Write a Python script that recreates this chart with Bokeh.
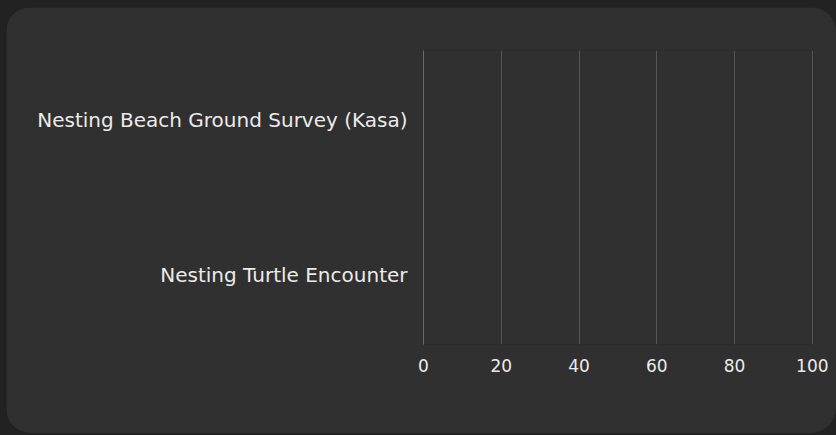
from bokeh.plotting import figure
from bokeh.embed import file_html
from bokeh.resources import INLINE
from bokeh.models import Range1d, FactorRange, GlobalInlineStyleSheet, FixedTicker

# Data
categories = ["Nesting Beach Ground Survey (Kasa)", "Nesting Turtle Encounter"]
values = [0, 0]
x_ticks = [0, 20, 40, 60, 80, 100]

FONT = "DejaVu Sans"
TEXT = "#ebebeb"

factors = list(reversed(categories))
p = figure(
    width=830, height=426,
    y_range=FactorRange(factors=factors, range_padding=-0.05),
    x_range=Range1d(0, 100.3),
    output_backend="svg", toolbar_location=None,
    min_border_left=417, min_border_right=23,
    min_border_top=43, min_border_bottom=89,
)
p.hbar(y=categories, right=values, height=0.6, color="#4e79a7")

p.background_fill_color = "#303030"
p.border_fill_color = "#303030"
p.outline_line_color = None
p.styles = {"border-radius": "25px", "overflow": "hidden",
            "margin-left": "6px", "margin-top": "7px"}
p.stylesheets = [GlobalInlineStyleSheet(css="html, body { background: #222222; }")]

p.ygrid.grid_line_color = None
p.xgrid.grid_line_color = "#555555"
p.xgrid.grid_line_width = 1

p.xaxis.ticker = FixedTicker(ticks=x_ticks)
p.xaxis.axis_line_color = None
p.xaxis.major_tick_line_color = None
p.xaxis.minor_tick_line_color = None
p.xaxis.major_tick_out = 0
p.xaxis.minor_tick_out = 0
p.xaxis.major_label_standoff = 14
p.xaxis.major_label_text_color = TEXT
p.xaxis.major_label_text_font = FONT
p.xaxis.major_label_text_font_size = "17px"

p.yaxis.axis_line_color = "#6a6a6a"
p.yaxis.major_tick_line_color = None
p.yaxis.minor_tick_line_color = None
p.yaxis.major_tick_out = 0
p.yaxis.minor_tick_out = 0
p.yaxis.major_label_standoff = 16
p.yaxis.major_label_text_color = TEXT
p.yaxis.major_label_text_font = FONT
p.yaxis.major_label_text_font_size = "20px"

open("out.html", "w").write(file_html(p, INLINE))
